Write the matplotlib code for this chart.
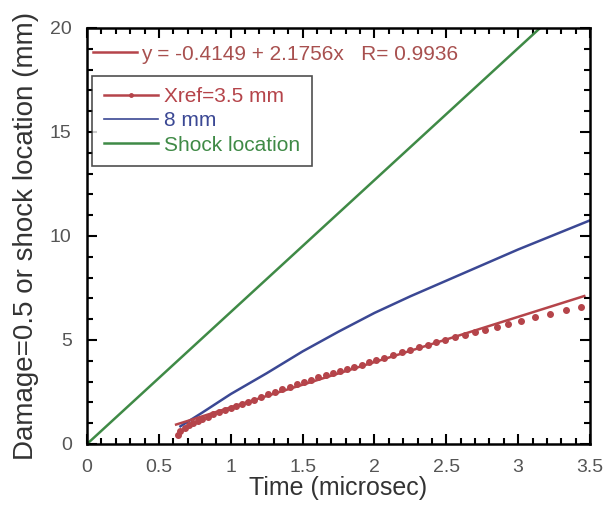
import matplotlib
matplotlib.use('Agg')
import matplotlib.pyplot as plt
from matplotlib.lines import Line2D
from matplotlib.ticker import MultipleLocator

plt.rcParams['font.family'] = ['Liberation Sans', 'DejaVu Sans']

# data
t_shock = [0.0, 3.5]
x_shock = [0.0, 22.2]

t_8mm = [0.65, 0.8, 1.0, 1.25, 1.5, 1.75, 2.0, 2.25, 2.5, 2.75, 3.0, 3.25, 3.5]
x_8mm = [0.85, 1.5, 2.4, 3.4, 4.45, 5.4, 6.3, 7.1, 7.85, 8.6, 9.35, 10.05, 10.75]

t_xref = [0.63, 0.65, 0.68, 0.71, 0.74, 0.77, 0.8, 0.84, 0.88, 0.92, 0.96, 1.0,
          1.04, 1.08, 1.12, 1.16, 1.21, 1.26, 1.31, 1.36, 1.41, 1.46, 1.51,
          1.56, 1.61, 1.66, 1.71, 1.76, 1.81, 1.86, 1.91, 1.96, 2.01, 2.07,
          2.13, 2.19, 2.25, 2.31, 2.37, 2.43, 2.49, 2.56, 2.63, 2.7, 2.77,
          2.85, 2.93, 3.02, 3.12, 3.22, 3.33, 3.44]
x_xref = [0.45, 0.62, 0.78, 0.9, 1.0, 1.1, 1.2, 1.3, 1.42, 1.52, 1.63, 1.74,
          1.84, 1.93, 2.02, 2.12, 2.25, 2.38, 2.5, 2.62, 2.75, 2.87, 3.0,
          3.1, 3.2, 3.3, 3.4, 3.52, 3.62, 3.72, 3.82, 3.92, 4.02, 4.14,
          4.27, 4.4, 4.52, 4.64, 4.76, 4.88, 5.0, 5.12, 5.26, 5.38, 5.5,
          5.64, 5.78, 5.93, 6.1, 6.26, 6.45, 6.6]

fit_a = -0.4149
fit_b = 2.1756
fit_r = 0.9936
t_fit = [0.62, 3.46]

red = '#b5444a'
blue = '#3b4894'
green = '#3f8a46'

fig = plt.figure(figsize=(6.06, 5.08), dpi=100)
ax = fig.add_axes([0.1436, 0.126, 0.83, 0.819])

ax.plot(t_shock, x_shock, color=green, lw=1.8)
ax.plot(t_8mm, x_8mm, color=blue, lw=1.8)
ax.plot(t_xref, x_xref, linestyle='none', marker='o', ms=4, color=red)
fit_line, = ax.plot(t_fit, [fit_a + fit_b * t for t in t_fit], color=red, lw=1.8)

ax.set_xlim(0, 3.5)
ax.set_ylim(0, 20)
ax.xaxis.set_major_locator(MultipleLocator(0.5))
ax.xaxis.set_minor_locator(MultipleLocator(0.1))
ax.yaxis.set_major_locator(MultipleLocator(5))
ax.yaxis.set_minor_locator(MultipleLocator(1))
ax.set_xticks([0, 0.5, 1, 1.5, 2, 2.5, 3, 3.5])
ax.set_xticklabels(['0', '0.5', '1', '1.5', '2', '2.5', '3', '3.5'])
ax.tick_params(which='both', direction='in', top=True, right=True,
               labelsize=14, labelcolor='#555555', width=1.5)
ax.tick_params(which='major', length=7)
ax.tick_params(which='minor', length=4)
ax.tick_params(axis='x', which='major', pad=11)
ax.tick_params(axis='y', which='major', pad=11)
for s in ax.spines.values():
    s.set_linewidth(1.8)

ax.set_xlabel('Time (microsec)', fontsize=18, color='#333333', labelpad=0)
ax.set_ylabel('Damage=0.5 or shock location (mm)', fontsize=20, color='#333333', labelpad=8)

# fit legend on top
fit_txt = 'y = %.4f + %.4fx   R= %.4f' % (fit_a, fit_b, fit_r)
leg1 = ax.legend([fit_line], [fit_txt], loc='upper left', frameon=False,
                 fontsize=15, handlelength=2.1, handletextpad=0.2,
                 borderaxespad=0.0, bbox_to_anchor=(-0.005, 0.98))
leg1.get_texts()[0].set_color('#a8504f')
ax.add_artist(leg1)

handles = [Line2D([], [], color=red, lw=1.8, marker='o', ms=2.5),
           Line2D([], [], color=blue, lw=1.2),
           Line2D([], [], color=green, lw=1.8)]
labels = ['Xref=3.5 mm', '8 mm', 'Shock location']
leg2 = ax.legend(handles, labels, loc='upper left', fontsize=15,
                 bbox_to_anchor=(0.01, 0.885), fancybox=False,
                 handlelength=2.6, handletextpad=0.3, labelspacing=0.25,
                 borderpad=0.55, borderaxespad=0.0)
leg2.get_frame().set_edgecolor('#222222')
leg2.get_frame().set_linewidth(1.2)
cols = [red, blue, green]
for txt, c in zip(leg2.get_texts(), cols):
    txt.set_color(c)

fig.savefig('out.png', dpi=100)
